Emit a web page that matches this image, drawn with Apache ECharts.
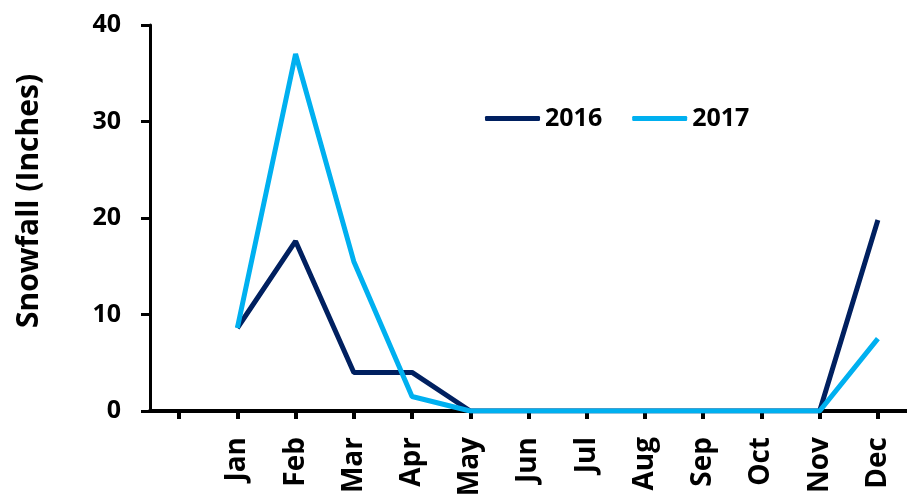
<!DOCTYPE html>
<html>
<head>
<meta charset="utf-8">
<script src="https://cdn.jsdelivr.net/npm/echarts@6/dist/echarts.min.js"></script>
<style>
  html, body { margin: 0; padding: 0; background: #fff; }
  #chart { width: 907px; height: 500px; }
</style>
</head>
<body>
<div id="chart"></div>
<script>
// first slot is an empty category, as in the original axis
var months = ['', 'Jan', 'Feb', 'Mar', 'Apr', 'May', 'Jun', 'Jul', 'Aug', 'Sep', 'Oct', 'Nov', 'Dec'];
var snow2016 = [null, 8.6, 17.6, 4.0, 4.0, 0, 0, 0, 0, 0, 0, 0, 19.8];
var snow2017 = [null, 8.6, 37.0, 15.5, 1.5, 0, 0, 0, 0, 0, 0, 0, 7.5];
var yTicks = [0, 10, 20, 30, 40];

var font = '"Open Sans"';

var chart = echarts.init(document.getElementById('chart'));

chart.setOption({
    animation: false,
    grid: { left: 150, right: -2, top: 25, bottom: 89 },
    legend: {
        left: 485,
        top: 106,
        padding: 0,
        icon: 'roundRect',
        itemWidth: 55,
        itemHeight: 5,
        itemGap: 30,
        textStyle: { fontFamily: font, fontWeight: 'bold', fontSize: 25, color: '#000' },
        data: ['2016', '2017']
    },
    xAxis: {
        type: 'category',
        data: months,
        boundaryGap: true,
        axisLine: { lineStyle: { color: '#000', width: 4 } },
        axisTick: { show: true, alignWithLabel: true, interval: 0, length: 8, lineStyle: { color: '#000', width: 4 } },
        axisLabel: {
            rotate: 90,
            margin: 26,
            interval: 0,
            fontFamily: font,
            fontWeight: 'bold',
            fontSize: 28,
            color: '#000'
        }
    },
    yAxis: {
        type: 'value',
        min: yTicks[0],
        max: yTicks[yTicks.length - 1],
        interval: 10,
        name: 'Snowfall (Inches)',
        nameLocation: 'middle',
        nameGap: 106,
        nameTextStyle: { fontFamily: font, fontWeight: 'bold', fontSize: 30, color: '#000', padding: [0, 0, 0, 34] },
        splitLine: { show: false },
        axisLine: { show: true, lineStyle: { color: '#000', width: 3 } },
        axisTick: { show: true, length: 9, lineStyle: { color: '#000', width: 3 } },
        axisLabel: { margin: 29, fontFamily: font, fontWeight: 'bold', fontSize: 25, color: '#000' }
    },
    series: [
        {
            name: '2016',
            type: 'line',
            data: snow2016,
            showSymbol: false,
            symbol: 'none',
            color: '#002060',
            lineStyle: { width: 5, color: '#002060' }
        },
        {
            name: '2017',
            type: 'line',
            data: snow2017,
            showSymbol: false,
            symbol: 'none',
            color: '#00B0F0',
            lineStyle: { width: 5, color: '#00B0F0' }
        }
    ]
});
</script>
</body>
</html>
